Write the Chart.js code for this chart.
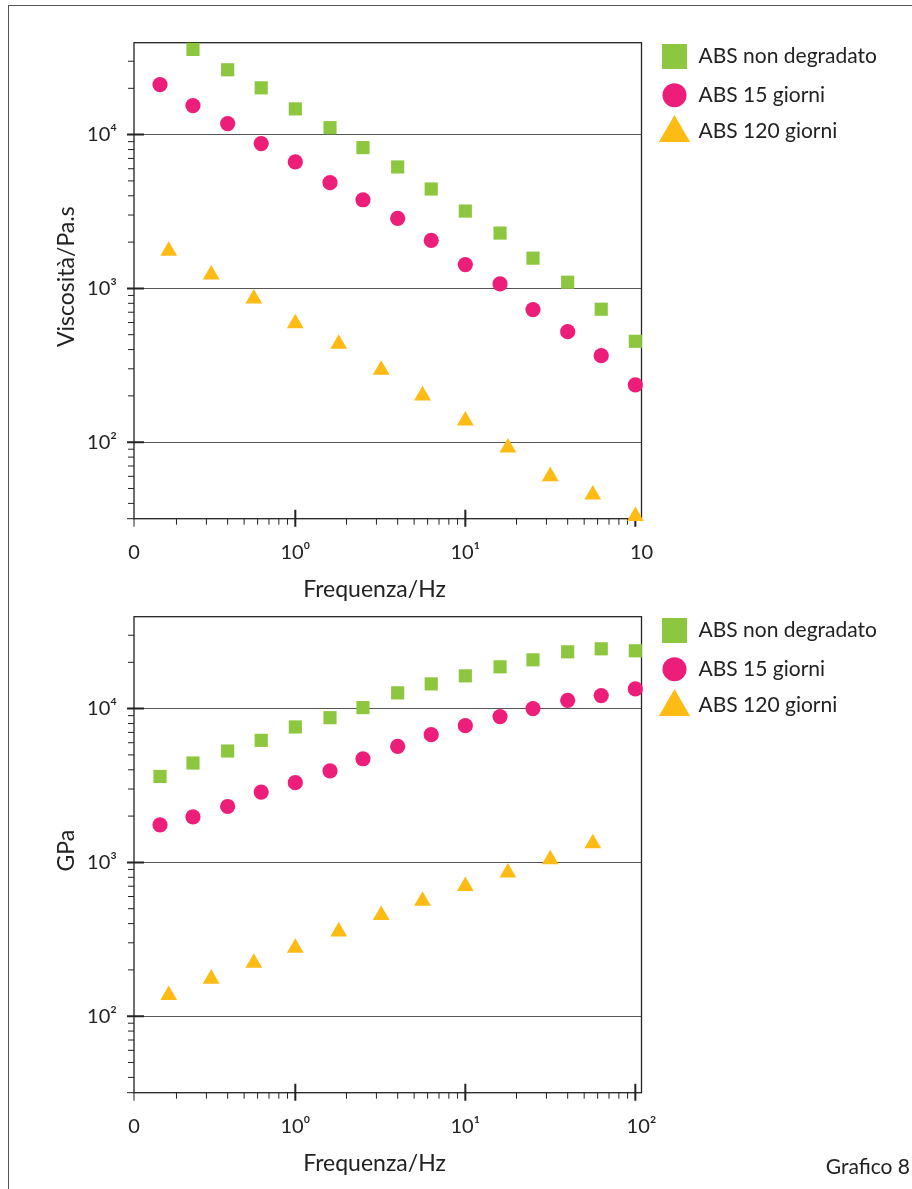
<!DOCTYPE html>
<html>
<head>
<meta charset="utf-8">
<title>Grafico 8</title>
<script src="https://cdn.jsdelivr.net/npm/chart.js@4.4.1/dist/chart.umd.min.js"></script>
<style>
  body { margin: 0; background: #fff; }
  #page { position: relative; width: 912px; height: 1189px; overflow: hidden; font-family: Lato, sans-serif; }
  #frame { position: absolute; left: 8px; top: 5px; width: 1000px; height: 1300px; border-left: 1px solid #555; border-top: 1px solid #555; }
  #c1 { position: absolute; left: 0; top: 0; }
  #c2 { position: absolute; left: 0; top: 580px; }
  #label { position: absolute; right: 2px; top: 1153px; font-size: 21px; line-height: 25px; color: #222; }
</style>
</head>
<body>
<div id="page">
  <div id="frame"></div>
  <canvas id="c1" width="912" height="610"></canvas>
  <canvas id="c2" width="912" height="609"></canvas>
  <div id="label">Grafico 8</div>
</div>
<script>
(() => {
  'use strict'

  // series
  const seriesNames = ['ABS non degradato', 'ABS 15 giorni', 'ABS 120 giorni'];
  const seriesColors = ['#8DC63F', '#ED1E79', '#FDBB13'];
  const seriesStyles = ['rect', 'circle', 'triangle'];

  // frequencies (Hz)
  const freqA = [0.16, 0.25, 0.4, 0.63, 1, 1.6, 2.5, 4, 6.3, 10, 16, 25, 40, 63, 100];
  const freqB = [0.18, 0.32, 0.57, 1, 1.8, 3.2, 5.6, 10, 17.8, 31.6, 56.2, 100];

  // top chart: viscosity (Pa.s)
  const viscNonDeg = [35800, 26400, 20150, 14700, 11100, 8230, 6160, 4430, 3184, 2290, 1573, 1097, 732, 453];
  const visc15 = [21170, 15450, 11800, 8740, 6640, 4870, 3770, 2850, 2050, 1429, 1070, 728, 523, 365, 236];
  const visc120 = [1750, 1228, 857, 592, 436, 295, 201, 138, 92, 60, 45.5, 33];

  // bottom chart: modulus (GPa)
  const modNonDeg = [3620, 4430, 5300, 6220, 7600, 8730, 10150, 12660, 14480, 16330, 18700, 20760, 23400, 24480, 23760];
  const mod15 = [1755, 1980, 2310, 2865, 3300, 3940, 4720, 5680, 6770, 7750, 8870, 10000, 11330, 12150, 13430];
  const mod120 = [137, 175, 222, 278, 355, 454, 562, 700, 857, 1047, 1330];

  // axes
  const xMin = 0.1125, xMax = 108.7;
  const yMin = 31.8, yMax = 39600;
  const xTickValues = [xMin, 1, 10, xMax];
  const xTickLabelsTop = ['0', '10⁰', '10¹', '10'];
  const xTickLabelsBottom = ['0', '10⁰', '10¹', '10²'];
  const yTickValues = [100, 1000, 10000];
  const yTickLabels = ['10²', '10³', '10⁴'];
  const xTitle = 'Frequenza/Hz';
  const yTitleTop = 'Viscosità/Pa.s';
  const yTitleBottom = 'GPa';

  Chart.defaults.font.family = 'Lato, sans-serif';
  Chart.defaults.color = '#222';

  const pts = (xs, ys) => ys.map((v, i) => ({x: xs[i], y: v}));
  const radii = [9.3, 7.6, 9.7];
  const legendRadii = [17.7, 12, 18];

  const decor = {
    id: 'decor',
    beforeDatasetsDraw(chart) {
      const {ctx, chartArea: a, scales: {x, y}} = chart;
      ctx.save();
      ctx.strokeStyle = '#222';
      ctx.lineWidth = 1.3;
      ctx.strokeRect(a.left, a.top, a.right - a.left, a.bottom - a.top);

      const minor = new Path2D(), major = new Path2D();
      for (let e = 1; e <= 4; e++) {
        for (let m = 1; m <= 9; m++) {
          const v = m * Math.pow(10, e);
          if (v <= y.min || v >= y.max) continue;
          const py = y.getPixelForValue(v);
          if (m === 1) { major.moveTo(a.left - 7, py); major.lineTo(a.left + 10, py); }
          else { minor.moveTo(a.left - 6, py); minor.lineTo(a.left, py); }
        }
      }
      for (let e = -1; e <= 2; e++) {
        for (let m = 1; m <= 9; m++) {
          const v = m * Math.pow(10, e);
          if (v <= x.min || v >= x.max) continue;
          const px = x.getPixelForValue(v);
          if (m === 1) { major.moveTo(px, a.bottom - 9); major.lineTo(px, a.bottom + 8); }
          else { minor.moveTo(px, a.bottom); minor.lineTo(px, a.bottom + 6); }
        }
      }
      minor.moveTo(a.left, a.bottom); minor.lineTo(a.left, a.bottom + 8);
      minor.moveTo(a.left - 7, a.bottom); minor.lineTo(a.left, a.bottom);
      ctx.lineWidth = 1;
      ctx.stroke(minor);
      ctx.lineWidth = 2;
      ctx.stroke(major);
      ctx.restore();
    },
    afterDraw(chart, args, opts) {
      const {ctx, chartArea: a} = chart;
      ctx.save();
      ctx.fillStyle = '#222';
      ctx.font = '23px Lato, sans-serif';
      ctx.textAlign = 'center';
      ctx.textBaseline = 'alphabetic';
      ctx.fillText(xTitle, a.left + 240.5, a.bottom + 78.6);

      ctx.save();
      ctx.translate(73.5, (a.top + a.bottom) / 2 - 4);
      ctx.rotate(-Math.PI / 2);
      ctx.fillText(opts.yTitle, 0, 0);
      ctx.restore();

      // legend
      const markY = [13.8, 52.6, 90.3];
      const textY = [20.6, 59, 95.6];
      ctx.font = '21px Lato, sans-serif';
      ctx.textAlign = 'left';
      seriesNames.forEach((name, i) => {
        ctx.fillStyle = seriesColors[i];
        Chart.helpers.drawPoint(ctx, {pointStyle: seriesStyles[i], radius: legendRadii[i], rotation: 0, borderWidth: 0}, a.right + 33, a.top + markY[i]);
        ctx.fillStyle = '#222';
        ctx.fillText(name, a.right + 57, a.top + textY[i]);
      });
      ctx.restore();
    }
  };

  function makeChart(el, series, xLabels, yTitle, top, xHeight) {
    return new Chart(el, {
      type: 'scatter',
      data: {
        datasets: series.map((s, i) => ({
          label: seriesNames[i],
          data: pts(s.x, s.y),
          pointStyle: seriesStyles[i],
          pointRadius: radii[i],
          pointHoverRadius: radii[i],
          pointBorderWidth: 0,
          backgroundColor: seriesColors[i],
          borderColor: seriesColors[i],
          clip: false
        }))
      },
      options: {
        responsive: false,
        animation: false,
        layout: { padding: { top: top, left: 0, right: 270.5, bottom: 0 } },
        plugins: {
          legend: { display: false },
          tooltip: { enabled: false },
          decor: { yTitle: yTitle }
        },
        scales: {
          x: {
            type: 'logarithmic',
            min: xMin,
            max: xMax,
            border: { display: false },
            grid: { display: false, drawTicks: false },
            afterBuildTicks: s => { s.ticks = xTickValues.map(v => ({value: v})); },
            afterFit: s => { s.height = xHeight; },
            ticks: {
              autoSkip: false,
              maxRotation: 0,
              padding: 22,
              font: { size: 20 },
              callback: (v, i) => xLabels[i]
            }
          },
          y: {
            type: 'logarithmic',
            min: yMin,
            max: yMax,
            border: { display: false },
            grid: { color: '#555', lineWidth: 1, drawTicks: false },
            afterBuildTicks: s => { s.ticks = yTickValues.map(v => ({value: v})); },
            afterFit: s => { s.width = 134; },
            ticks: {
              autoSkip: false,
              padding: 17,
              font: { size: 20 },
              callback: (v, i) => yTickLabels[i]
            }
          }
        }
      },
      plugins: [decor]
    });
  }

  makeChart(document.getElementById('c1'), [
    {x: freqA.slice(1), y: viscNonDeg},
    {x: freqA, y: visc15},
    {x: freqB, y: visc120}
  ], xTickLabelsTop, yTitleTop, 42.7, 91.3);

  makeChart(document.getElementById('c2'), [
    {x: freqA, y: modNonDeg},
    {x: freqA, y: mod15},
    {x: freqB.slice(0, mod120.length), y: mod120}
  ], xTickLabelsBottom, yTitleBottom, 36.7, 96.3);
})()
</script>
</body>
</html>
